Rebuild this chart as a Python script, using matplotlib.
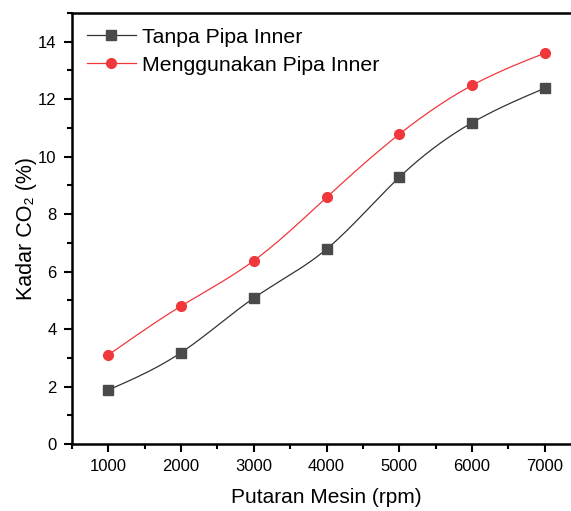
import numpy as np
import matplotlib
matplotlib.use("Agg")
import matplotlib.pyplot as plt
from matplotlib.ticker import MultipleLocator

# data
rpm = [1000, 2000, 3000, 4000, 5000, 6000, 7000]
tanpa = [1.88, 3.18, 5.08, 6.78, 9.28, 11.18, 12.38]
pipa = [3.1, 4.8, 6.38, 8.58, 10.78, 12.48, 13.6]
labels = ["Tanpa Pipa Inner", "Menggunakan Pipa Inner"]


def spline_curve(x, y, n=300):
    # natural cubic spline, used only to draw the smooth connecting line
    x = np.asarray(x, float)
    y = np.asarray(y, float)
    k = len(x)
    h = np.diff(x)
    A = np.zeros((k, k))
    b = np.zeros(k)
    A[0, 0] = A[-1, -1] = 1
    for i in range(1, k - 1):
        A[i, i - 1] = h[i - 1]
        A[i, i] = 2 * (h[i - 1] + h[i])
        A[i, i + 1] = h[i]
        b[i] = 6 * ((y[i + 1] - y[i]) / h[i] - (y[i] - y[i - 1]) / h[i - 1])
    m = np.linalg.solve(A, b)
    xs = np.linspace(x[0], x[-1], n)
    idx = np.clip(np.searchsorted(x, xs) - 1, 0, k - 2)
    x0, x1 = x[idx], x[idx + 1]
    hh = x1 - x0
    t0 = x1 - xs
    t1 = xs - x0
    ys = (m[idx] * t0 ** 3 / (6 * hh) + m[idx + 1] * t1 ** 3 / (6 * hh)
          + (y[idx] / hh - m[idx] * hh / 6) * t0
          + (y[idx + 1] / hh - m[idx + 1] * hh / 6) * t1)
    return xs, ys


plt.rcParams['font.family'] = ['Liberation Sans', 'DejaVu Sans']

fig = plt.figure(figsize=(5.71, 5.11), dpi=100)
ax = fig.add_axes([72 / 571, 1 - 444 / 511, 509 / 571, 431 / 511])

series = [(tanpa, "#4a4a4a", "#333333", "s", labels[0]),
          (pipa, "#f0383c", "#f0383c", "o", labels[1])]
for vals, mcol, lcol, mk, lab in series:
    xs, ys = spline_curve(rpm, vals)
    ax.plot(xs, ys, color=lcol, lw=0.9)
    ax.plot(rpm, vals, linestyle="none", marker=mk, ms=7, color=mcol)
    # legend proxy
    ax.plot([], [], color=lcol, lw=0.9, marker=mk, ms=7, mfc=mcol, mec=mcol, label=lab)

ax.set_xlim(500, 7500)
ax.set_ylim(0, 15)
ax.xaxis.set_major_locator(MultipleLocator(1000))
ax.xaxis.set_minor_locator(MultipleLocator(500))
ax.yaxis.set_major_locator(MultipleLocator(2))
ax.yaxis.set_minor_locator(MultipleLocator(1))
ax.set_xticks(rpm)
ax.tick_params(which="major", direction="out", length=6, width=1.5, labelsize=12, pad=5)
ax.tick_params(which="minor", direction="out", length=3.5, width=1.5)
for s in ax.spines.values():
    s.set_linewidth(1.8)
ax.spines["right"].set_visible(False)

ax.set_xlabel("Putaran Mesin (rpm)", fontsize=15, labelpad=10)
ax.set_ylabel("Kadar CO\u2082 (%)", fontsize=15.5, labelpad=1)

ax.legend(loc="upper left", frameon=False, fontsize=15.3, handlelength=2.3,
          handletextpad=0.3, labelspacing=0.42, borderaxespad=0.3,
          bbox_to_anchor=(0.0, 1.0))

fig.savefig("out.png", dpi=100)
